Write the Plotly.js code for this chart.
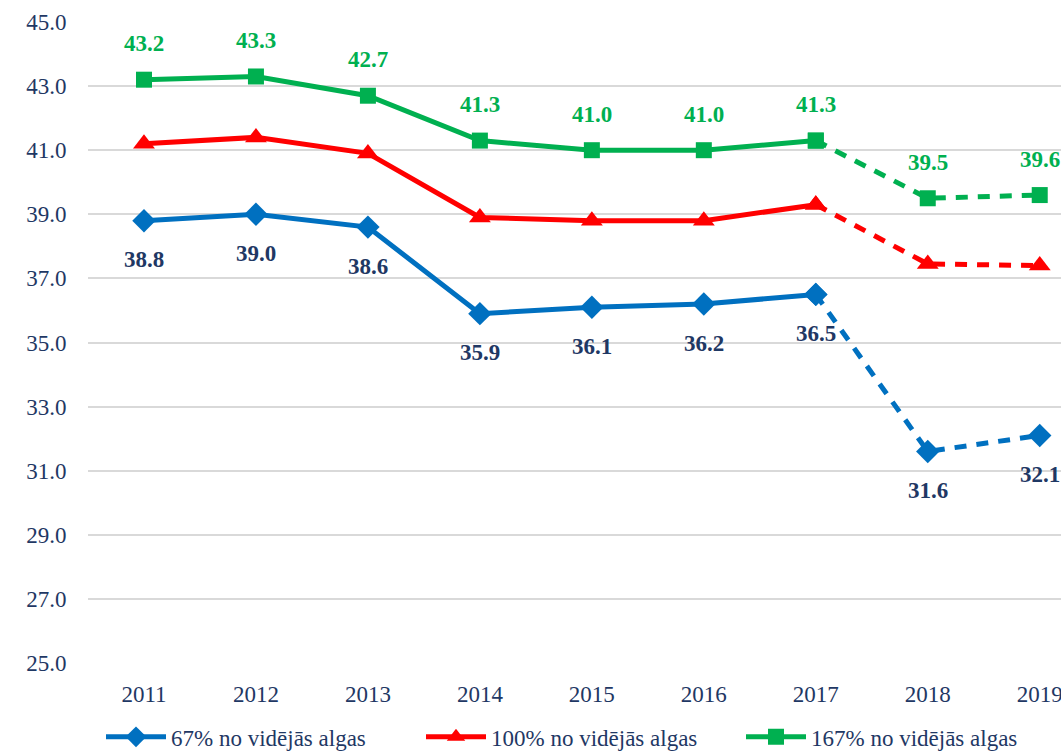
<!DOCTYPE html>
<html><head><meta charset="utf-8">
<script src="https://cdn.plot.ly/plotly-3.0.1.min.js"></script>
<style>html,body{margin:0;padding:0;overflow:hidden;background:#fff}</style>
</head><body><div id="chart" style="width:1061px;height:755px"></div>
<script>
const years = ['2011','2012','2013','2014','2015','2016','2017','2018','2019'];
const s67 = [38.8, 39.0, 38.6, 35.9, 36.1, 36.2, 36.5, 31.6, 32.1];
const s100 = [41.2, 41.4, 40.9, 38.9, 38.8, 38.8, 39.3, 37.45, 37.4];
const s167 = [43.2, 43.3, 42.7, 41.3, 41.0, 41.0, 41.3, 39.5, 39.6];
const names = ['67% no vidējās algas', '100% no vidējās algas', '167% no vidējās algas'];
const colors = ['#0070C0', '#FF0000', '#00B050'];
const symbols = ['diamond', 'triangle-up', 'square'];
const solidEnd = 7; // solid through 2017, dashed after

const FONT = 'Liberation Serif';
const NAVY = '#1F3864';
const FS = 23;
const series = [s67, s100, s167];
const msizes = [18, 19, 16];
const traces = [];
series.forEach((vals, i) => {
  traces.push({
    x: years.slice(0, solidEnd), y: vals.slice(0, solidEnd), type: 'scatter', mode: 'lines+markers',
    name: names[i], line: {color: colors[i], width: 5},
    marker: {symbol: symbols[i], size: msizes[i], color: colors[i]}, legendgroup: 'g' + i
  });
  traces.push({
    x: years.slice(solidEnd - 1), y: vals.slice(solidEnd - 1), type: 'scatter', mode: 'lines+markers',
    name: names[i], showlegend: false, line: {color: colors[i], width: 5, dash: '12px,10px'},
    marker: {symbol: symbols[i], size: msizes[i], color: colors[i]}, legendgroup: 'g' + i
  });
});

const annotations = [];
for (let k = 0; k < years.length; k++) {
  annotations.push({x: k, y: s167[k], xref: 'x', yref: 'y', text: '<b>' + s167[k].toFixed(1) + '</b>',
    showarrow: false, yshift: 36, font: {family: FONT, size: FS, color: '#00B050'}});
  annotations.push({x: k, y: s67[k], xref: 'x', yref: 'y', text: '<b>' + s67[k].toFixed(1) + '</b>',
    showarrow: false, yshift: -39, font: {family: FONT, size: FS, color: NAVY}});
}

const layout = {
  width: 1061, height: 755,
  margin: {l: 88, r: 0, t: 22, b: 92},
  paper_bgcolor: '#fff', plot_bgcolor: '#fff',
  font: {family: FONT, size: FS, color: NAVY},
  showlegend: true,
  legend: {orientation: 'h', x: 0.518, xanchor: 'center', yref: 'container', y: 0.024, yanchor: 'middle',
    entrywidth: 245, itemwidth: 60, font: {family: FONT, size: FS, color: NAVY}, traceorder: 'normal'},
  xaxis: {type: 'category', range: [-0.5, 8.19], showgrid: false, zeroline: false, showline: false,
    ticks: 'outside', ticklen: 10, tickcolor: 'rgba(0,0,0,0)', automargin: false,
    tickfont: {family: FONT, size: FS, color: NAVY}},
  yaxis: {range: [25, 45], tickmode: 'linear', tick0: 25, dtick: 2, tickformat: '.1f',
    showgrid: true, gridcolor: '#D9D9D9', gridwidth: 1.5, zeroline: false, showline: false,
    ticks: 'outside', ticklen: 16, tickcolor: 'rgba(0,0,0,0)', automargin: false,
    tickfont: {family: FONT, size: FS, color: NAVY}},
  annotations: annotations
};

Plotly.newPlot('chart', traces, layout, {displayModeBar: false});
</script></body></html>
